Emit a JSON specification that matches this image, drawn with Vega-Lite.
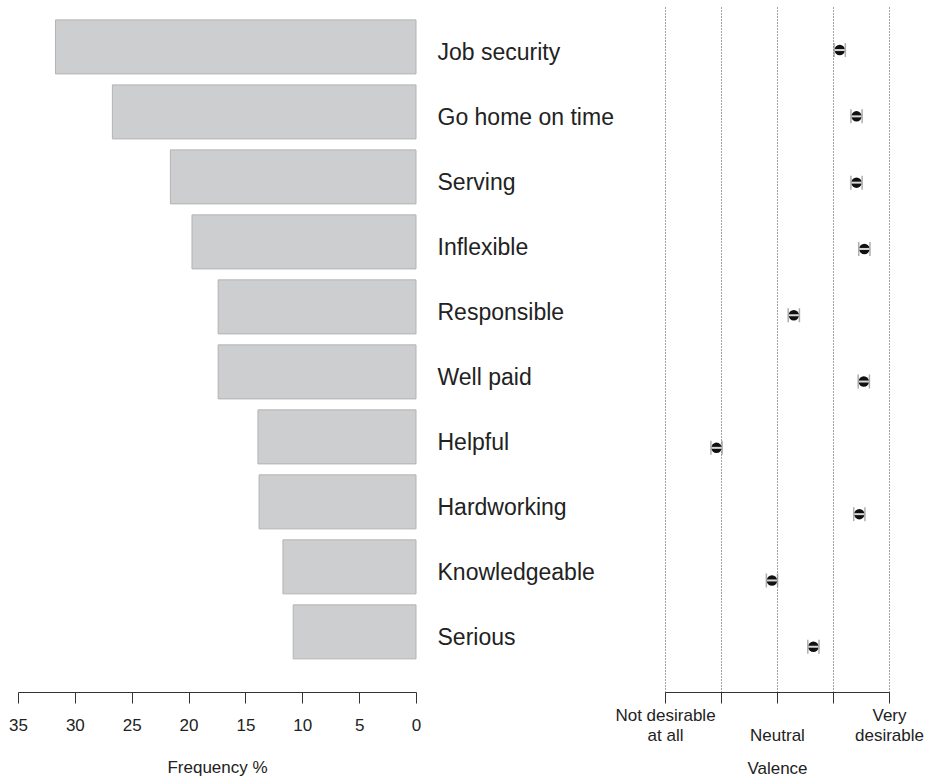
{
  "$schema": "https://vega.github.io/schema/vega-lite/v6.json",
  "padding": {"left": 8, "top": 7, "right": 5, "bottom": 0},
  "background": "white",
  "config": {
    "font": "Liberation Sans",
    "view": {"stroke": null},
    "axis": {
      "labelFont": "Liberation Sans",
      "titleFont": "Liberation Sans",
      "labelColor": "#222",
      "titleColor": "#222",
      "domainColor": "#333",
      "tickColor": "#333",
      "titleFontWeight": "normal",
      "labelFontSize": 17,
      "titleFontSize": 17,
      "labelFlush": false,
      "labelOverlap": false
    }
  },
  "data": {
    "values": [
      {"trait": "Job security", "freq": 31.7, "valence": 4.12, "lo": 4.02, "hi": 4.22},
      {"trait": "Go home on time", "freq": 26.7, "valence": 4.42, "lo": 4.32, "hi": 4.52},
      {"trait": "Serving", "freq": 21.6, "valence": 4.42, "lo": 4.32, "hi": 4.52},
      {"trait": "Inflexible", "freq": 19.7, "valence": 4.56, "lo": 4.46, "hi": 4.66},
      {"trait": "Responsible", "freq": 17.4, "valence": 3.3, "lo": 3.2, "hi": 3.4},
      {"trait": "Well paid", "freq": 17.4, "valence": 4.55, "lo": 4.45, "hi": 4.65},
      {"trait": "Helpful", "freq": 13.9, "valence": 1.92, "lo": 1.82, "hi": 2.02},
      {"trait": "Hardworking", "freq": 13.8, "valence": 4.47, "lo": 4.37, "hi": 4.57},
      {"trait": "Knowledgeable", "freq": 11.7, "valence": 2.91, "lo": 2.81, "hi": 3.01},
      {"trait": "Serious", "freq": 10.8, "valence": 3.65, "lo": 3.55, "hi": 3.75}
    ]
  },
  "bounds": "flush",
  "spacing": 249,
  "hconcat": [
    {
      "width": 398,
      "height": 685,
      "mark": {"type": "bar", "fill": "#cdcecf", "stroke": "#b3b3b3", "strokeWidth": 1},
      "encoding": {
        "y": {
          "field": "trait",
          "type": "nominal",
          "sort": null,
          "scale": {"paddingInner": 0.169, "paddingOuter": 0.354, "align": 0.28},
          "axis": {
            "orient": "right",
            "title": null,
            "domain": false,
            "ticks": false,
            "labelPadding": 21,
            "labelFontSize": 23,
            "labelAlign": "left",
            "labelBaseline": "middle",
            "labelOffset": 6,
            "labelColor": "#222"
          }
        },
        "x": {
          "field": "freq",
          "type": "quantitative",
          "scale": {"domain": [0, 35], "reverse": true, "nice": false},
          "axis": {
            "values": [0, 5, 10, 15, 20, 25, 30, 35],
            "grid": false,
            "tickSize": 11,
            "labelPadding": 14,
            "title": "Frequency %",
            "titlePadding": 26
          }
        }
      }
    },
    {
      "width": 224,
      "height": 685,
      "encoding": {
        "y": {
          "field": "trait",
          "type": "nominal",
          "sort": null,
          "scale": {"paddingInner": 0, "paddingOuter": 0.166, "align": 0.45},
          "axis": null
        }
      },
      "layer": [
        {
          "mark": {"type": "point", "filled": true, "shape": "circle", "size": 110, "color": "#111", "opacity": 1},
          "encoding": {
            "x": {
              "field": "valence",
              "type": "quantitative",
              "scale": {"domain": [1, 5], "nice": false, "zero": false},
              "axis": {
                "values": [1, 2, 3, 4, 5],
                "grid": true,
                "gridDash": [1, 2],
                "gridColor": "#444",
                "gridWidth": 1,
                "tickSize": 11,
                "labelPadding": 4,
                "labelLineHeight": 20,
                "labelBaseline": "top",
                "labelAlign": "center",
                "labelExpr": "datum.value == 1 ? ['Not desirable', 'at all'] : datum.value == 3 ? ['', 'Neutral'] : datum.value == 5 ? ['Very', 'desirable'] : ''",
                "title": "Valence",
                "titlePadding": 17
              }
            }
          }
        },
        {
          "mark": {"type": "rule", "color": "#d8d8d8", "strokeWidth": 2},
          "encoding": {
            "x": {"field": "lo", "type": "quantitative"},
            "x2": {"field": "hi"}
          }
        },
        {
          "mark": {"type": "tick", "orient": "vertical", "color": "#8a8a8a", "thickness": 1.5, "size": 14},
          "encoding": {"x": {"field": "lo", "type": "quantitative"}}
        },
        {
          "mark": {"type": "tick", "orient": "vertical", "color": "#8a8a8a", "thickness": 1.5, "size": 14},
          "encoding": {"x": {"field": "hi", "type": "quantitative"}}
        }
      ]
    }
  ]
}
